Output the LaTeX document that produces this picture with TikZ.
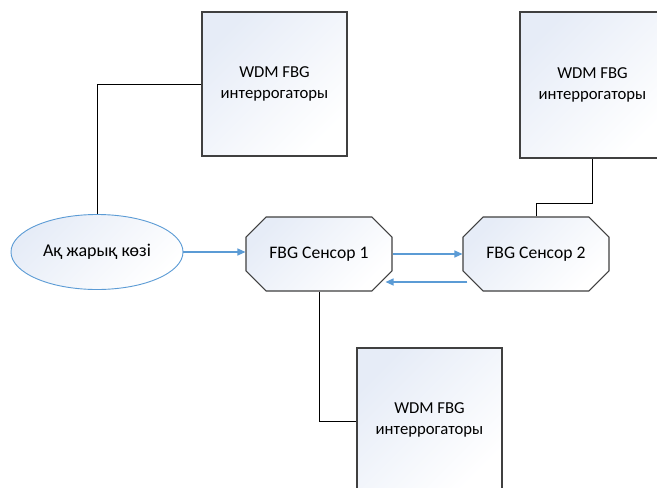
\documentclass[tikz,border=0pt]{standalone}
\usepackage{fontspec}
\setmainfont{Carlito}
\usetikzlibrary{shapes.geometric,shapes.misc,arrows.meta}
\definecolor{edgeblue}{HTML}{5B9BD5}
\definecolor{fillblue}{HTML}{E6ECF7}
\definecolor{boxline}{HTML}{404040}
\tikzset{
  grad/.style={top color=fillblue, bottom color=white, shading angle=45},
  wdmbox/.style={draw=boxline, line width=1.1pt, grad, minimum width=145pt, minimum height=144pt,
    align=center, font=\fontsize{16.7}{21}\selectfont, inner sep=0pt},
  sensor/.style={chamfered rectangle, chamfered rectangle xsep=14pt, chamfered rectangle ysep=13pt,
    draw=boxline, line width=1.1pt, grad, minimum width=146pt, minimum height=74pt, inner sep=0pt,
    font=\fontsize{17.6}{21}\selectfont},
  source/.style={ellipse, draw=edgeblue, line width=0.9pt, grad, minimum width=172pt, minimum height=75pt,
    inner sep=0pt, font=\fontsize{18}{21}\selectfont},
  link/.style={draw=black, line width=0.9pt},
  flow/.style={draw=edgeblue, line width=1.2pt, -{Triangle[length=8pt,width=7pt]}}
}
\begin{document}
\begin{tikzpicture}[x=1pt,y=-1pt]
\path[use as bounding box, clip] (0,0) rectangle (657,488);
\fill[white] (0,0) rectangle (657,488);
\node[wdmbox] (tl) at (274.5,84) {WDM FBG\\интеррогаторы};
\node[wdmbox, minimum height=146pt] (tr) at (592.5,85) {WDM FBG\\интеррогаторы};
\node[wdmbox] (bt) at (429.5,420) {WDM FBG\\интеррогаторы};
\node[source] (src) at (97,252) {Ақ жарық көзі};
\node[sensor] (s1) at (319,254) {FBG Сенсор 1};
\node[sensor] (s2) at (536,254) {FBG Сенсор 2};
\coordinate (c1) at (536,203);
\coordinate (c2) at (319,421);
\draw[link] (tl.west) -| (src.north);
\draw[link] (s2.north) -- (c1) -| (tr.south);
\draw[link] (s1.south) -- (c2) -- (c2 -| bt.west);
\draw[flow] (src.east) -- (src.east -| s1.west);
\draw[flow] (s1.east) -- (s2.west);
\draw[flow] ([shift={(5,28)}]s2.west) -- ([shift={(-7,28)}]s1.east);
\end{tikzpicture}
\end{document}
